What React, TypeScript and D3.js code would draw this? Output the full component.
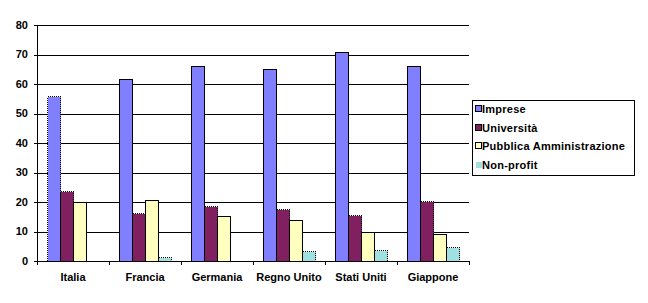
import React from "react";
import * as d3 from "d3";

const categories = ["Italia", "Francia", "Germania", "Regno Unito", "Stati Uniti", "Giappone"];
const seriesNames = ["Imprese", "Università", "Pubblica Amministrazione", "Non-profit"];
const imprese = [56.0, 61.6, 66.1, 65.0, 70.7, 66.1];
const universita = [23.7, 16.2, 18.5, 17.5, 15.5, 20.2];
const pubblica = [19.9, 20.6, 15.3, 13.8, 9.8, 9.2];
const nonprofit = [0, 1.2, 0, 3.3, 3.6, 4.6];
const yTicks = [0, 10, 20, 30, 40, 50, 60, 70, 80];
const colors = ["#8080FF", "#802060", "#FFFFC0", "#A0E0E0"];
// bars drawn with dotted outline (estimated values)
const dottedSeries = [false, true, false, true];
const dottedSpecial: [number, number][] = [[0, 0]];

const seriesValues = [imprese, universita, pubblica, nonprofit];

const W = 648, H = 303;
const left = 37, right = 469, top = 25, bottom = 261;
const font = "'Liberation Sans', Arial, sans-serif";

export default function App() {
  const x = d3.scaleBand<string>().domain(categories).range([left, right]).paddingInner(0).paddingOuter(0);
  const xi = d3.scaleBand<string>().domain(seriesNames).range([0, x.bandwidth()]).paddingInner(0).paddingOuter(0.77);
  const y = d3.scaleLinear().domain([0, 80]).range([bottom, top]);

  const bars: { key: string; x: number; y: number; w: number; h: number; fill: string; dotted: boolean }[] = [];
  seriesValues.forEach((vals, si) => {
    vals.forEach((v, ci) => {
      if (v <= 0) return;
      const bx = (x(categories[ci]) as number) + (xi(seriesNames[si]) as number);
      const dotted = dottedSeries[si] || dottedSpecial.some(([s, c]) => s === si && c === ci);
      bars.push({ key: `${si}-${ci}`, x: bx, y: y(v), w: xi.bandwidth(), h: y(0) - y(v), fill: colors[si], dotted });
    });
  });
  const ordered = [...bars.filter(b => b.dotted), ...bars.filter(b => !b.dotted)];

  const boundaries = [...categories.map(c => x(c) as number), right];

  return (
    <svg width={W} height={H} style={{ position: "absolute", left: 0, top: 0, background: "#fff" }} shapeRendering="crispEdges">
      {yTicks.filter(t => t > 0).map(t => (
        <line key={"g" + t} x1={left} x2={right} y1={Math.round(y(t)) + 0.5} y2={Math.round(y(t)) + 0.5} stroke="#000" strokeWidth={1} />
      ))}
      {ordered.map(b => (
        <rect key={b.key} x={Math.round(b.x) + 0.5} y={Math.round(b.y) + 0.5} width={Math.round(b.w)} height={Math.round(bottom - Math.round(b.y))}
          fill={b.fill} stroke="#000" strokeWidth={1} strokeDasharray={b.dotted ? "1,1" : undefined} />
      ))}
      {/* y axis */}
      <line x1={left + 0.5} x2={left + 0.5} y1={top} y2={bottom + 1} stroke="#000" />
      {yTicks.map(t => (
        <g key={"t" + t}>
          <line x1={left - 3} x2={left} y1={Math.round(y(t)) + 0.5} y2={Math.round(y(t)) + 0.5} stroke="#000" />
          <text x={28} y={y(t)} dy="0.35em" textAnchor="end" fontFamily={font} fontWeight="bold" fontSize={11}>{t}</text>
        </g>
      ))}
      {/* x axis */}
      <line x1={left} x2={right + 1} y1={bottom + 0.5} y2={bottom + 0.5} stroke="#000" />
      {boundaries.map((bx, i) => (
        <line key={"xt" + i} x1={Math.round(bx) + 0.5} x2={Math.round(bx) + 0.5} y1={bottom} y2={bottom + 4} stroke="#000" />
      ))}
      {categories.map(c => (
        <text key={c} x={(x(c) as number) + x.bandwidth() / 2} y={281} textAnchor="middle" fontFamily={font} fontWeight="bold" fontSize={11}>{c}</text>
      ))}
      {/* legend */}
      <rect x={472.5} y={100.5} width={162} height={75} fill="#fff" stroke="#000" />
      {seriesNames.map((s, i) => {
        const ly = 109 + i * 18.7;
        return (
          <g key={s}>
            <rect x={475.5} y={Math.round(ly) - 3.5} width={6} height={6} fill={colors[i]} stroke={i === 3 ? "none" : "#000"} />
            <text x={482} y={ly} dy="0.35em" fontFamily={font} fontWeight="bold" fontSize={11} letterSpacing={0.25}>{s}</text>
          </g>
        );
      })}
    </svg>
  );
}
